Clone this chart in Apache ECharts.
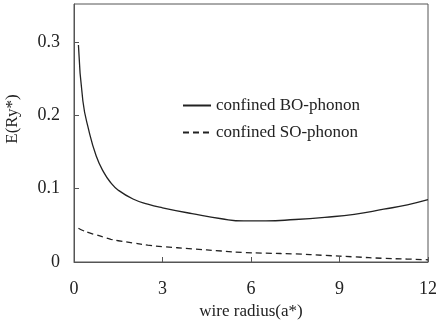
<!DOCTYPE html>
<html>
<head>
<meta charset="utf-8">
<script src="https://cdn.jsdelivr.net/npm/echarts@6/dist/echarts.min.js"></script>
<style>
  html, body { margin: 0; padding: 0; background: #fff; }
  #chart { width: 436px; height: 320px; }
</style>
</head>
<body>
<div id="chart"></div>
<script>
// wire radius (a*)
const radius = [0.15, 0.3, 0.5, 0.75, 1, 1.25, 1.5, 2, 2.5, 3, 4, 5, 5.75, 6.5, 7.5, 8.5, 9.5, 10.5, 11.3, 12];
// E (Ry*)
const boPhonon = [0.296, 0.22, 0.18, 0.145, 0.123, 0.108, 0.098, 0.086, 0.079, 0.074, 0.066, 0.059, 0.056, 0.056, 0.058, 0.061, 0.065, 0.072, 0.078, 0.085];
const soPhonon = [0.046, 0.043, 0.040, 0.037, 0.034, 0.031, 0.029, 0.026, 0.023, 0.021, 0.018, 0.015, 0.013, 0.012, 0.011, 0.009, 0.007, 0.005, 0.004, 0.003];
const seriesNames = ["confined BO-phonon", "confined SO-phonon"];

const font = "Liberation Serif";
const ink = "#222";

const chart = echarts.init(document.getElementById("chart"));
chart.setOption({
  animation: false,
  grid: {
    left: 74,
    right: 8,
    top: 4,
    bottom: 58,
    outerBoundsMode: "none",
    show: true,
    borderColor: "#555",
    borderWidth: 1,
  },
  legend: {
    orient: "vertical",
    left: 177,
    top: 92,
    itemWidth: 28,
    itemHeight: 10,
    itemGap: 10,
    itemStyle: { opacity: 0 },
    textStyle: { fontFamily: font, fontSize: 17, color: ink },
    data: seriesNames,
  },
  xAxis: {
    type: "value",
    min: 0,
    max: 12,
    interval: 3,
    name: "wire radius(a*)",
    nameLocation: "middle",
    nameGap: 37,
    nameTextStyle: { fontFamily: font, fontSize: 17, color: ink },
    axisLine: { lineStyle: { color: "#555", width: 1 } },
    axisTick: { inside: true, length: 5, lineStyle: { color: "#555" } },
    axisLabel: { fontFamily: font, fontSize: 18, color: ink, margin: 18 },
    splitLine: { show: false },
  },
  yAxis: {
    type: "value",
    min: 0,
    max: 0.352,
    interval: 0.1,
    name: "E(Ry*)",
    nameLocation: "middle",
    nameGap: 53,
    nameTextStyle: { fontFamily: font, fontSize: 17, color: ink, padding: [0, 0, 0, 28] },
    axisLine: { show: true, lineStyle: { color: "#555", width: 1 } },
    axisTick: { show: true, inside: true, length: 5, lineStyle: { color: "#555" } },
    axisLabel: { fontFamily: font, fontSize: 18, color: ink, margin: 14, showMaxLabel: false },
    splitLine: { show: false },
  },
  series: [
    {
      name: seriesNames[0],
      type: "line",
      smooth: true,
      symbol: "none",
      lineStyle: { color: ink, width: 1.3, type: "solid" },
      itemStyle: { color: ink },
      data: radius.map((r, i) => [r, boPhonon[i]]),
    },
    {
      name: seriesNames[1],
      type: "line",
      smooth: true,
      symbol: "none",
      lineStyle: { color: ink, width: 1.3, type: [6, 4] },
      itemStyle: { color: ink },
      data: radius.map((r, i) => [r, soPhonon[i]]),
    },
  ],
});
</script>
</body>
</html>
